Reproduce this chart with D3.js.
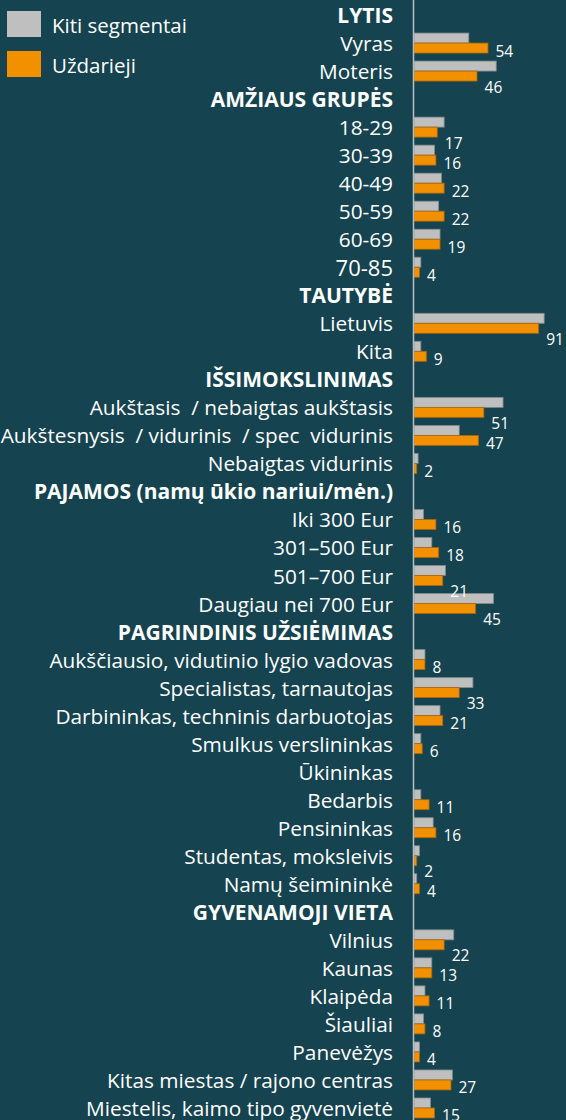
<!DOCTYPE html>
<html>
<head>
<meta charset="utf-8">
<script src="https://cdn.jsdelivr.net/npm/d3@7"></script>
<style>
  html, body { margin: 0; padding: 0; background: #15434f; }
  svg { display: block; }
  text { font-family: "Open Sans", "Noto Sans", sans-serif; fill: #ffffff; }
</style>
</head>
<body>
<svg id="chart" width="566" height="1120"></svg>
<script>
// Section headings, in drawing order
const groups = [
  "LYTIS",
  "AMŽIAUS GRUPĖS",
  "TAUTYBĖ",
  "IŠSIMOKSLINIMAS",
  "PAJAMOS (namų ūkio nariui/mėn.)",
  "PAGRINDINIS UŽSIĖMIMAS",
  "GYVENAMOJI VIETA"
];

// Categories within each section
const categories = [
  ["Vyras", "Moteris"],
  ["18-29", "30-39", "40-49", "50-59", "60-69", "70-85"],
  ["Lietuvis", "Kita"],
  ["Aukštasis  / nebaigtas aukštasis", "Aukštesnysis  / vidurinis  / spec  vidurinis", "Nebaigtas vidurinis"],
  ["Iki 300 Eur", "301–500 Eur", "501–700 Eur", "Daugiau nei 700 Eur"],
  ["Aukščiausio, vidutinio lygio vadovas", "Specialistas, tarnautojas", "Darbininkas, techninis darbuotojas",
   "Smulkus verslininkas", "Ūkininkas", "Bedarbis", "Pensininkas", "Studentas, moksleivis", "Namų šeimininkė"],
  ["Vilnius", "Kaunas", "Klaipėda", "Šiauliai", "Panevėžys", "Kitas miestas / rajono centras", "Miestelis, kaimo tipo gyvenvietė"]
];

// Series names
const seriesNames = ["Kiti segmentai", "Uždarieji"];

// "Kiti segmentai" shares, %
const otherValues = [
  [40, 60],
  [22, 15, 20, 18, 19, 5],
  [95, 5],
  [65, 33, 3],
  [7, 13, 23, 58],
  [8, 43, 19, 5, null, 5, 14, 4, 2],
  [29, 13, 8, 7, 4, 28, 12]
];

// "Uždarieji" shares, %
const closedValues = [
  [54, 46],
  [17, 16, 22, 22, 19, 4],
  [91, 9],
  [51, 47, 2],
  [16, 18, 21, 45],
  [8, 33, 21, 6, null, 11, 16, 2, 4],
  [22, 13, 11, 8, 4, 27, 15]
];

// Flatten into a row list: one heading row, then its category rows
const rows = [];
groups.forEach((g, gi) => {
  rows.push({ key: "h" + gi, label: g, header: true });
  categories[gi].forEach((c, ci) => {
    rows.push({
      key: "c" + gi + "_" + ci,
      label: c,
      header: false,
      other: otherValues[gi][ci],
      closed: closedValues[gi][ci]
    });
  });
});

const svg = d3.select("#chart");
const axisX = 413.5;
const labelX = 393;

const y = d3.scaleBand()
  .domain(rows.map(r => r.key))
  .range([1, 1122])
  .padding(0);

const x = d3.scaleLinear()
  .domain([0, 100])
  .range([axisX + 0.5, axisX + 0.5 + 137]);

const colors = d3.scaleOrdinal().domain(seriesNames).range(["#bfbfbf", "#f29000"]);
const strokes = d3.scaleOrdinal().domain(seriesNames).range(["#7f8a8c", "#a8650a"]);

const barH = 10;
const mid = r => y(r.key) + y.bandwidth() / 2;

// Row labels (headings bold)
svg.append("g").selectAll("text")
  .data(rows)
  .join("text")
  .attr("x", labelX)
  .attr("y", mid)
  .attr("text-anchor", "end")
  .attr("dominant-baseline", "central")
  .style("white-space", "pre")
  .style("font-size", d => d.header ? "21px" : (d.label === "70-85" ? "22px" : "20.8px"))
  .style("font-weight", d => d.header ? "700" : "400")
  .text(d => d.label);

const dataRows = rows.filter(r => !r.header);

// Kiti segmentai bars (upper)
svg.append("g").selectAll("rect")
  .data(dataRows.filter(r => r.other != null))
  .join("rect")
  .attr("x", x(0))
  .attr("y", d => mid(d) - barH)
  .attr("width", d => x(d.other) - x(0))
  .attr("height", barH)
  .attr("fill", colors(seriesNames[0]))
  .attr("stroke", strokes(seriesNames[0]))
  .attr("stroke-width", 0.8);

// Uždarieji bars (lower)
svg.append("g").selectAll("rect")
  .data(dataRows.filter(r => r.closed != null))
  .join("rect")
  .attr("x", x(0))
  .attr("y", d => mid(d))
  .attr("width", d => x(d.closed) - x(0))
  .attr("height", barH)
  .attr("fill", colors(seriesNames[1]))
  .attr("stroke", strokes(seriesNames[1]))
  .attr("stroke-width", 0.8);

// Value labels for Uždarieji; pushed lower when the upper bar runs past them
svg.append("g").selectAll("text")
  .data(dataRows.filter(r => r.closed != null))
  .join("text")
  .attr("x", d => x(d.closed) + 7.5)
  .attr("y", d => mid(d) + ((d.other - d.closed) >= 2 ? 15.5 : 7.5))
  .attr("dominant-baseline", "central")
  .style("font-size", "15.5px")
  .text(d => d.closed);

// Vertical category axis line
svg.append("line")
  .attr("x1", axisX).attr("x2", axisX)
  .attr("y1", 0).attr("y2", 1120)
  .attr("stroke", "#b8c0c2")
  .attr("stroke-width", 1.5);

// Legend
const legend = svg.append("g").selectAll("g")
  .data(seriesNames)
  .join("g")
  .attr("transform", (d, i) => `translate(7, ${11 + i * 40})`);

legend.append("rect")
  .attr("width", 34)
  .attr("height", 26)
  .attr("fill", d => colors(d));

legend.append("text")
  .attr("x", 45)
  .attr("y", 13.5)
  .attr("dominant-baseline", "central")
  .style("font-size", "20.5px")
  .text(d => d);
</script>
</body>
</html>
